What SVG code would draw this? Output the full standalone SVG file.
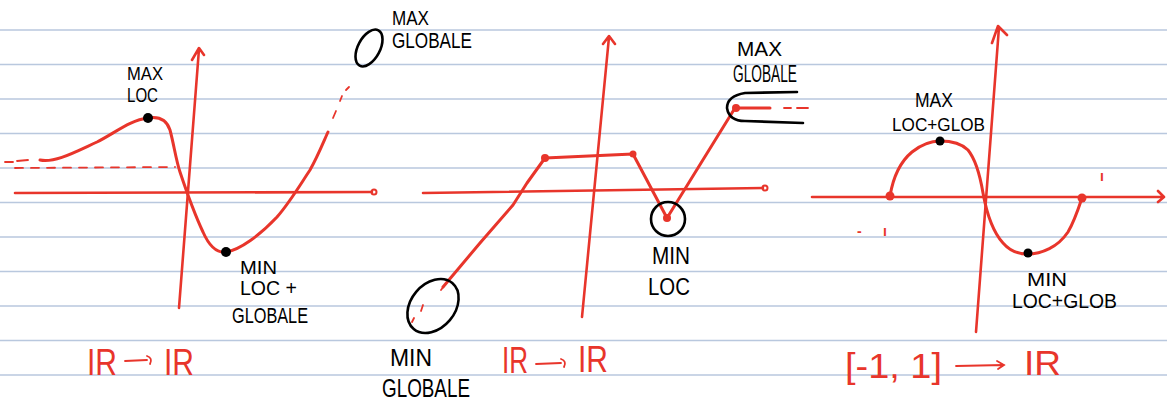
<svg xmlns="http://www.w3.org/2000/svg" width="1167" height="401" viewBox="0 0 1167 401">
<style>
.paper{stroke:#b9c8de;stroke-width:1.6;fill:none}
.ax{stroke:#e8352b;stroke-width:2.6;fill:none;stroke-linecap:round;stroke-linejoin:round}
.cv{stroke:#e8352b;stroke-width:3;fill:none;stroke-linecap:round;stroke-linejoin:round}
.dash{stroke:#e8352b;stroke-width:1.8;fill:none;stroke-linecap:round}
.ring{stroke:#000;stroke-width:2.6;fill:none;stroke-linecap:round}
.bdot{fill:#000}
.rdot{fill:#e8352b}
.lbl{font-family:"Liberation Sans",Arial,sans-serif;fill:#000}
.red{font-family:"Liberation Sans",Arial,sans-serif;fill:#e8352b}
.tick{font-family:"Liberation Sans",Arial,sans-serif;font-weight:bold;fill:#e8352b}
</style>
<rect width="1167" height="401" fill="#fff"/>
<g id="paper">
<path class="paper" d="M0,30H1167M0,64.5H1167M0,99H1167M0,133.5H1167M0,168H1167M0,202.5H1167M0,237H1167M0,271.5H1167M0,306H1167M0,340.5H1167M0,375H1167"/>
</g>

<g id="connectors">
<!-- graph 1 -->
<path class="ax" d="M179,308 L199,49 M192,60 L199,48 L204,55"/>
<path class="ax" d="M15,193 L372,192"/>
<circle cx="374" cy="192" r="2.5" fill="none" stroke="#e8352b" stroke-width="2"/>
<path class="dash" d="M5,162 L13,162 M17,161 L28,160"/>
<path class="dash" stroke-dasharray="8 8" d="M15,168 L175,167"/>
<path class="cv" d="M40,160 C55,163 75,152 97,142 C115,133 130,120 148,118 C160,116 167,121 170,130 C174,145 176,160 180,172 C186,190 195,215 203,232 C210,248 218,253 226,252 C240,250 260,235 277,217 C290,202 300,185 310,170 C318,156 323,143 328,132"/>
<path class="dash" d="M333,118 L336,111 M340,101 L342,96 M346,90 L349,87"/>
<!-- graph 2 -->
<path class="ax" d="M582,317 L609,37 M603,44 L609,36 L615,44"/>
<path class="ax" d="M423,193 L763,188"/>
<circle cx="765" cy="188" r="2.5" fill="none" stroke="#e8352b" stroke-width="2"/>
<path class="cv" stroke-width="2.4" d="M443,287 L480,243 L513,205 L527,183 L545,158 L633,154 L667,218 L735,108 L770,108"/>
<path class="dash" d="M412,322 L414,318 M421,311 L423,305 M441,290 L444,286 M784,108 L791,108 M797,108 L808,108"/>
<!-- graph 3 -->
<path class="ax" d="M976,332 L999,27 M992,43 L998,26 L1007,35"/>
<path class="ax" d="M812,197 L1163,197 M1158,191 L1164,197 L1158,202"/>
<path class="cv" d="M890,196 C893,178 900,162 912,152 C922,144 932,141 940,141 C952,141 962,144 968,150 C976,160 980,175 983,193 C987,215 993,232 1003,243 C1010,251 1018,254 1027,254 C1042,254 1058,247 1068,232 C1074,222 1078,210 1082,198"/>
</g>

<g id="graph1">
<circle class="bdot" cx="148" cy="118" r="5"/>
<circle class="bdot" cx="226" cy="252" r="5"/>
<text class="lbl" x="127" y="80" style="font-size:18px" textLength="36" lengthAdjust="spacingAndGlyphs">MAX</text>
<text class="lbl" x="127" y="102" style="font-size:20px" textLength="31" lengthAdjust="spacingAndGlyphs">LOC</text>
<text class="lbl" x="240" y="274" style="font-size:18px" textLength="37" lengthAdjust="spacingAndGlyphs">MIN</text>
<text class="lbl" x="240" y="295" style="font-size:20px" textLength="57" lengthAdjust="spacingAndGlyphs">LOC +</text>
<text class="lbl" x="232" y="323" style="font-size:22px" textLength="76" lengthAdjust="spacingAndGlyphs">GLOBALE</text>
<ellipse class="ring" cx="369" cy="48" rx="11" ry="20" transform="rotate(28 369 48)"/>
<text class="lbl" x="392" y="25" style="font-size:20px" textLength="37" lengthAdjust="spacingAndGlyphs">MAX</text>
<text class="lbl" x="392" y="48" style="font-size:22px" textLength="80" lengthAdjust="spacingAndGlyphs">GLOBALE</text>
<text class="red" x="87" y="375" style="font-size:37px" textLength="30" lengthAdjust="spacingAndGlyphs">IR</text>
<path class="dash" stroke-width="2.4" d="M125,361 L147,360 M147,356 Q153,358 150,364"/>
<text class="red" x="164" y="375" style="font-size:37px" textLength="30" lengthAdjust="spacingAndGlyphs">IR</text>
</g>

<g id="graph2">
<circle class="rdot" cx="545" cy="158" r="4"/>
<circle class="rdot" cx="633" cy="154" r="3.5"/>
<circle class="rdot" cx="667" cy="218" r="4"/>
<circle class="rdot" cx="736" cy="108" r="4"/>
<circle class="ring" cx="668" cy="219" r="17"/>
<ellipse class="ring" cx="433" cy="306" rx="30" ry="22" transform="rotate(-50 433 306)"/>
<path class="ring" d="M797,92 L745,93 Q727,96 727,108 Q729,121 745,121 L803,123"/>
<text class="lbl" x="737" y="56" style="font-size:21px" textLength="45" lengthAdjust="spacingAndGlyphs">MAX</text>
<text class="lbl" x="733" y="82" style="font-size:23px" textLength="64" lengthAdjust="spacingAndGlyphs">GLOBALE</text>
<text class="lbl" x="652" y="264" style="font-size:23px" textLength="38" lengthAdjust="spacingAndGlyphs">MIN</text>
<text class="lbl" x="648" y="295" style="font-size:24px" textLength="42" lengthAdjust="spacingAndGlyphs">LOC</text>
<text class="lbl" x="390" y="366" style="font-size:23px" textLength="42" lengthAdjust="spacingAndGlyphs">MIN</text>
<text class="lbl" x="382" y="397" style="font-size:26px" textLength="88" lengthAdjust="spacingAndGlyphs">GLOBALE</text>
<text class="red" x="502" y="373" style="font-size:36px" textLength="26" lengthAdjust="spacingAndGlyphs">IR</text>
<path class="dash" stroke-width="2.4" d="M536,364 L561,363 M561,359 Q567,361 564,367"/>
<text class="red" x="578" y="372" style="font-size:36px" textLength="30" lengthAdjust="spacingAndGlyphs">IR</text>
</g>

<g id="graph3">
<circle class="rdot" cx="890" cy="196" r="4.5"/>
<circle class="rdot" cx="1082" cy="198" r="4.5"/>
<circle class="bdot" cx="940" cy="141" r="4.5"/>
<circle class="bdot" cx="1028" cy="253" r="4.5"/>
<text class="tick" x="857" y="236" style="font-size:14px" textLength="30" lengthAdjust="spacing">- ı</text>
<text class="tick" x="1100" y="181" style="font-size:14px">ı</text>
<text class="lbl" x="915" y="107" style="font-size:20px" textLength="38" lengthAdjust="spacingAndGlyphs">MAX</text>
<text class="lbl" x="892" y="131" style="font-size:19px" textLength="93" lengthAdjust="spacingAndGlyphs">LOC+GLOB</text>
<text class="lbl" x="1027" y="286" style="font-size:19px" textLength="40" lengthAdjust="spacingAndGlyphs">MIN</text>
<text class="lbl" x="1012" y="308" style="font-size:20px" textLength="105" lengthAdjust="spacingAndGlyphs">LOC+GLOB</text>
<text class="red" x="845" y="378" style="font-size:35px" textLength="97" lengthAdjust="spacingAndGlyphs">[-1, 1]</text>
<path class="dash" stroke-width="2.4" d="M956,366 L1004,365 M997,361 L1004,365 L998,369"/>
<text class="red" x="1024" y="375" style="font-size:35px" textLength="37" lengthAdjust="spacingAndGlyphs">IR</text>
</g>
</svg>
